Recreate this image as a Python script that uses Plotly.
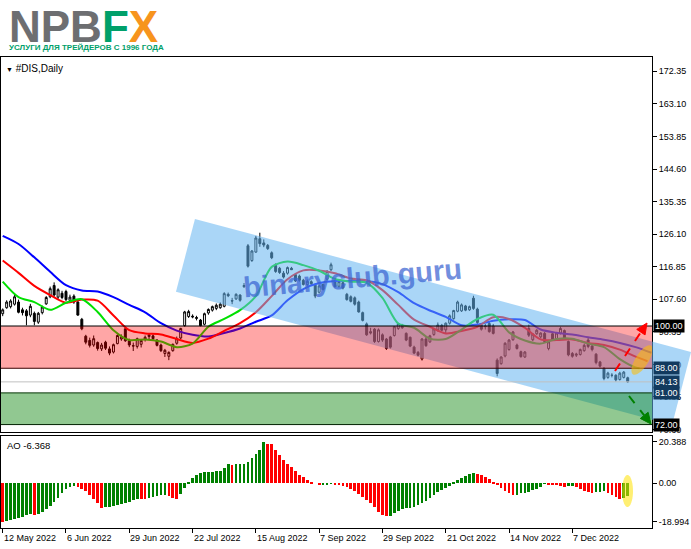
import numpy as np
import pandas as pd
import plotly.graph_objects as go

# ---------------- data ----------------
holidays = ['2022-05-30', '2022-06-20', '2022-07-04', '2022-09-05', '2022-11-24', '2022-12-26']
dates = pd.bdate_range('2022-05-12', '2022-12-28', freq='C', holidays=holidays)

open_ = [103.5, 105.2, 105.5, 106.2, 106.8, 104.6, 104.3, 103.1, 103.6, 101.1,
         103.8, 106.3, 108.3, 111.5, 108.2, 109.3, 109.8, 107.3, 108.5, 106.8,
         101.9, 97.1, 95.9, 94.6, 95.3, 93.5, 95.4, 93.5, 92.6, 95.0,
         96.3, 99.2, 95.8, 94.3, 94.2, 94.8, 96.2, 97.0, 97.2, 96.0,
         94.6, 92.2, 91.4, 93.0, 95.1, 96.6, 100.1, 102.7, 102.8, 102.4,
         101.7, 100.5, 103.7, 104.5, 105.0, 105.2, 105.6, 109.0, 107.2, 107.7,
         108.8, 111.2, 122.8, 118.6, 121.0, 124.8, 123.6, 122.9, 120.8, 117.2,
         116.4, 115.0, 115.0, 116.4, 114.6, 114.2, 113.0, 111.8, 112.6, 111.6,
         109.6, 111.8, 113.3, 116.0, 112.6, 111.3, 112.3, 109.0, 108.3, 108.0,
         106.8, 103.8, 100.6, 98.4, 99.1, 95.6, 97.5, 96.3, 96.9, 97.3,
         99.3, 100.3, 97.9, 96.8, 94.0, 92.5, 90.6, 96.3, 95.5, 97.6,
         98.9, 100.2, 98.9, 100.8, 102.1, 104.2, 104.3, 105.7, 104.6, 107.9,
         104.8, 100.2, 99.8, 100.7, 100.0, 90.3, 89.3, 91.5, 93.3, 96.1,
         94.6, 92.7, 91.2, 99.3, 96.1, 97.8, 96.9, 97.9, 93.6, 97.8,
         96.2, 98.0, 98.7, 95.6, 92.2, 91.7, 91.9, 93.0, 96.0, 94.3,
         92.0, 89.8, 88.0, 85.4, 86.0, 86.0, 84.8, 85.4, 85.3]
high_ = [105.0, 107.3, 107.6, 108.9, 107.5, 105.2, 104.8, 106.3, 104.1, 104.0,
         105.8, 108.5, 111.2, 112.4, 110.7, 110.0, 110.3, 108.9, 109.0, 107.3,
         102.3, 97.5, 96.7, 97.3, 95.6, 95.2, 95.8, 94.2, 95.0, 97.6,
         97.6, 99.8, 96.4, 95.3, 96.7, 96.3, 97.3, 97.9, 97.6, 96.3,
         95.0, 93.5, 92.8, 95.0, 97.0, 99.5, 104.3, 104.6, 103.3, 102.9,
         102.0, 103.8, 105.0, 105.8, 106.4, 106.7, 109.6, 109.5, 108.0, 109.3,
         109.0, 112.2, 123.3, 121.6, 125.6, 126.5, 124.6, 123.3, 121.2, 117.8,
         116.8, 115.6, 116.9, 116.8, 114.9, 114.6, 113.4, 113.2, 113.0, 112.1,
         111.8, 112.1, 115.9, 118.0, 113.0, 113.0, 112.6, 109.4, 108.7, 108.4,
         107.2, 104.1, 101.0, 99.5, 99.4, 99.3, 97.9, 96.6, 97.2, 100.0,
         100.9, 100.6, 98.2, 97.0, 94.4, 92.9, 96.6, 96.9, 97.5, 99.5,
         101.0, 100.6, 101.0, 103.3, 104.6, 107.2, 106.4, 106.0, 105.8, 108.6,
         105.2, 100.6, 100.6, 101.3, 100.6, 90.8, 91.4, 95.4, 96.3, 98.6,
         95.0, 93.0, 92.9, 100.4, 98.0, 99.1, 98.2, 98.3, 95.9, 98.2,
         98.3, 99.8, 99.0, 95.9, 92.6, 92.4, 93.6, 95.0, 96.7, 94.8,
         92.3, 90.1, 88.3, 87.0, 86.6, 86.3, 87.0, 87.2, 85.6]
low_ = [102.8, 104.9, 105.0, 105.8, 103.6, 103.0, 100.2, 102.5, 100.2, 100.6,
        103.3, 106.0, 107.9, 108.3, 107.7, 107.6, 107.1, 106.8, 106.3, 102.9,
        98.8, 94.8, 93.9, 94.1, 93.0, 92.9, 93.2, 91.7, 92.2, 94.8,
        95.8, 95.5, 94.0, 92.9, 93.6, 93.9, 95.6, 96.3, 95.9, 94.2,
        92.6, 91.2, 90.3, 92.7, 94.7, 96.3, 99.8, 102.3, 102.2, 101.6,
        99.9, 100.2, 103.2, 104.1, 104.5, 104.9, 105.3, 108.2, 106.2, 107.4,
        106.9, 110.8, 116.6, 118.2, 120.8, 122.5, 122.4, 121.6, 119.0, 115.1,
        114.8, 113.5, 114.6, 115.9, 112.5, 112.6, 111.5, 111.3, 111.6, 107.9,
        109.2, 110.1, 113.0, 115.6, 110.9, 110.9, 110.4, 107.2, 106.7, 105.8,
        103.8, 101.3, 97.2, 97.6, 95.2, 95.3, 95.5, 93.2, 93.6, 97.0,
        98.9, 99.2, 95.7, 94.0, 92.0, 91.4, 90.2, 94.1, 95.2, 97.2,
        98.4, 98.5, 98.0, 100.4, 101.8, 103.9, 104.0, 104.2, 104.3, 104.6,
        100.6, 98.7, 99.0, 98.1, 97.6, 85.7, 89.0, 91.1, 93.0, 95.8,
        93.3, 91.0, 90.9, 96.9, 95.7, 97.5, 96.5, 95.3, 93.1, 95.8,
        95.9, 97.6, 96.1, 91.4, 91.0, 91.2, 91.6, 92.7, 93.7, 92.8,
        89.1, 88.2, 84.6, 85.0, 85.4, 84.2, 84.5, 85.1, 83.9]
close_ = [104.6, 106.8, 107.1, 108.3, 103.9, 103.8, 102.9, 105.6, 101.3, 103.6,
          105.4, 108.1, 110.6, 108.8, 110.3, 108.1, 107.5, 108.2, 106.8, 103.1,
          99.2, 95.4, 94.5, 96.4, 93.6, 94.6, 93.7, 92.3, 94.7, 97.3,
          96.9, 95.8, 94.6, 94.4, 96.4, 95.9, 96.8, 97.5, 96.4, 94.5,
          93.0, 93.1, 92.5, 94.8, 96.4, 99.3, 104.0, 104.1, 102.6, 102.2,
          100.1, 103.5, 104.7, 105.5, 105.9, 106.2, 109.2, 108.6, 107.1, 109.0,
          107.3, 111.5, 117.0, 121.3, 125.0, 123.4, 123.0, 122.0, 119.4, 115.5,
          115.2, 113.9, 116.6, 116.0, 112.8, 113.0, 111.8, 112.7, 112.0, 108.5,
          111.4, 110.4, 115.5, 117.4, 111.2, 112.6, 110.8, 107.5, 107.0, 106.2,
          104.0, 101.6, 97.5, 98.0, 95.6, 98.9, 96.0, 93.6, 94.0, 99.8,
          100.7, 99.5, 96.0, 94.3, 92.3, 91.7, 96.3, 94.4, 97.2, 99.2,
          100.3, 98.8, 100.8, 102.9, 104.4, 106.8, 106.0, 104.5, 105.5, 105.0,
          101.0, 99.1, 100.0, 98.4, 97.9, 86.5, 91.2, 95.1, 96.0, 98.3,
          93.6, 91.3, 92.6, 97.4, 97.7, 98.8, 98.0, 95.6, 95.5, 96.1,
          98.0, 99.3, 96.4, 91.8, 91.4, 92.0, 93.3, 94.5, 94.2, 93.3,
          89.6, 88.6, 85.1, 86.6, 86.0, 84.7, 86.6, 86.9, 84.13]

# Alligator lines (sampled every 4 bars, already shifted forward)
jaw_idx = list(range(0, 165, 4))
jaw = [125.6, 123.3, 119.5, 115.4, 111.6, 110.1, 109.8, 108.2, 106.0, 103.9,
       100.8, 98.7, 97.5, 97.0, 98.0, 99.3, 101.2, 103.0, 107.3, 110.5,
       112.2, 112.8, 112.8, 112.8, 111.9, 109.6, 106.5, 104.4, 102.6, 100.2,
       100.4, 101.5, 101.9, 101.7, 99.0, 98.1, 97.6, 96.8, 96.1, 95.2,
       94.0, 92.4]
teeth_idx = list(range(0, 161, 4)) + [163]
teeth = [118.6, 115.1, 111.4, 108.8, 106.6, 107.5, 107.2, 103.0, 98.8, 97.9,
         97.6, 96.3, 95.2, 96.4, 98.6, 100.8, 103.9, 108.5, 113.3, 115.8,
         115.8, 115.0, 113.5, 113.0, 110.2, 106.0, 101.8, 99.8, 97.9, 98.6,
         99.8, 102.5, 102.0, 99.5, 96.2, 96.0, 96.2, 95.2, 94.6, 93.3,
         91.3, 90.0]
lips_idx = list(range(0, 161, 4)) + [161]
lips = [112.6, 108.2, 106.8, 104.6, 106.6, 107.6, 104.0, 98.8, 96.0, 96.2,
        95.6, 94.0, 95.0, 99.8, 102.0, 104.5, 108.5, 116.8, 118.3, 117.3,
        115.7, 113.4, 112.6, 112.3, 108.0, 100.7, 99.5, 96.4, 96.3, 99.0,
        102.0, 103.2, 98.2, 95.9, 95.0, 96.3, 96.4, 95.0, 94.0, 90.6,
        88.2, 88.0]

ao = [-18.99, -18.7, -18.2, -17.6, -17.0, -16.4, -15.8, -15.3, -15.4, -15.0,
      -14.0, -12.6, -11.0, -9.3, -7.2, -4.9, -2.6, -1.6, -1.3, -1.7,
      -2.6, -4.0, -5.8, -7.9, -9.9, -12.1, -11.9, -11.6, -11.2, -10.8,
      -10.2, -9.6, -9.0, -8.2, -7.5, -7.7, -7.9, -7.4, -6.9, -6.4,
      -6.0, -5.8, -6.3, -7.0, -7.6, -5.5, -2.4, 0.8, 2.5, 4.0,
      4.9, 5.4, 5.6, 5.7, 5.9, 6.2, 7.4, 9.4, 9.2, 9.4,
      9.5, 9.7, 10.4, 12.4, 14.3, 16.5, 20.388, 19.6, 19.2, 16.6,
      14.1, 11.6, 9.7, 7.9, 6.2, 4.3, 3.0, 1.6, 0.8, 0.0,
      -0.8, -0.5, -0.35, -0.3, -0.45, -0.8, -1.3, -2.0, -2.9, -3.9,
      -5.1, -6.6, -8.2, -9.9, -11.8, -14.0, -15.6, -16.1, -16.0, -14.6,
      -13.5, -12.9, -12.4, -12.0, -11.6, -10.9, -9.9, -8.6, -7.2, -5.9,
      -4.5, -3.3, -2.2, -1.2, 0.6, 1.6, 2.8, 3.8, 4.6, 5.1,
      4.8, 4.0, 2.9, 1.9, 0.8, -0.8, -2.2, -3.6, -5.0, -5.9,
      -5.6, -5.0, -4.6, -4.1, -3.5, -2.8, -1.8, -0.3, -0.4, -0.7,
      -1.0, -1.3, -1.6, -1.4, -1.2, -2.0, -2.8, -3.6, -4.3, -4.8,
      -4.5, -4.2, -4.0, -4.6, -5.8, -6.9, -7.9, -7.3, -6.368]

price_ticks = [172.35, 163.10, 153.85, 144.60, 135.35, 126.10, 116.85, 107.60, 98.35, 89.10, 79.85, 70.60]
ao_ticks = [20.388, 0.0, -18.994]
ao_tick_text = ['20.388', '0.00', '-18.994']
date_ticks = ['2022-05-12', '2022-06-06', '2022-06-29', '2022-07-22', '2022-08-15',
              '2022-09-07', '2022-09-29', '2022-10-21', '2022-11-14', '2022-12-07']
date_labels = ['12 May 2022', '6 Jun 2022', '29 Jun 2022', '22 Jul 2022', '15 Aug 2022',
               '7 Sep 2022', '29 Sep 2022', '21 Oct 2022', '14 Nov 2022', '7 Dec 2022']

zone_red = (88.0, 100.0)
zone_green = (72.0, 81.0)
bid_level = 84.13
level_labels = [(100.00, '100.00', '#000000'), (88.00, '88.00', '#123a5e'),
                (84.13, '84.13', '#123a5e'), (81.00, '81.00', '#123a5e'),
                (72.00, '72.00', '#000000')]
# analyst channel corners (bar index, price)
channel_i = [48.6, 174.0, 169.2, 43.8]
channel_p = [130.4, 92.6, 71.9, 109.7]

# ---------------- geometry ----------------
W, H = 691, 549
PX0, PX1 = 1, 652
PY_TOP, PY_MAIN_BOT, PY_AO_TOP, PY_AO_BOT = 57, 432, 436, 528
XR = [-0.43, 164.14]
YR = [69.89, 176.42]
AOR = [-22.02, 23.30]
PH = PY_AO_BOT - PY_TOP
D0 = (PY_AO_BOT - PY_MAIN_BOT) / PH
D1_AO = (PY_AO_BOT - PY_AO_TOP) / PH

n = len(dates)
idx = list(range(n))
pos = {d.strftime('%Y-%m-%d'): k for k, d in enumerate(dates)}
tick_pos = [pos[d] for d in date_ticks]


def to_paper(i, p):
    return ((i - XR[0]) / (XR[1] - XR[0]), D0 + (p - YR[0]) / (YR[1] - YR[0]) * (1 - D0))


def px_paper(xp, yp):
    return ((xp - PX0) / (PX1 - PX0), (PY_AO_BOT - yp) / PH)


def px_data(xp, yp):
    i = XR[0] + (xp - PX0) / (PX1 - PX0) * (XR[1] - XR[0])
    p = YR[1] - (yp - PY_TOP) / (PY_MAIN_BOT - PY_TOP) * (YR[1] - YR[0])
    return i, p


fig = go.Figure()
fig.add_trace(go.Candlestick(
    x=idx, open=open_, high=high_, low=low_, close=close_,
    increasing=dict(line=dict(color='black', width=1), fillcolor='white'),
    decreasing=dict(line=dict(color='black', width=1), fillcolor='black'),
    whiskerwidth=0, xaxis='x', yaxis='y', showlegend=False, hoverinfo='skip'))

for xs, ys, col in [(jaw_idx, jaw, '#0000ff'), (teeth_idx, teeth, '#ff0000'), (lips_idx, lips, '#00e000')]:
    fig.add_trace(go.Scatter(x=xs, y=ys, mode='lines', line=dict(color=col, width=2, shape='spline', smoothing=0.8),
                             xaxis='x', yaxis='y', showlegend=False, hoverinfo='skip'))

ao_colors = ['#ff0000' if (k == 0 or ao[k] < ao[k - 1]) else '#008000' for k in range(n)]
fig.add_trace(go.Bar(x=idx, y=ao, marker=dict(color=ao_colors, line=dict(width=0)), width=0.68,
                     xaxis='x2', yaxis='y2', showlegend=False, hoverinfo='skip'))

shapes = []
pts = [to_paper(a, b) for a, b in zip(channel_i, channel_p)]
path = 'M ' + ' L '.join(f'{x:.5f},{y:.5f}' for x, y in pts) + ' Z'
shapes.append(dict(type='path', xref='paper', yref='paper', path=path,
                   fillcolor='rgba(100,180,240,0.55)', line=dict(width=0), layer='above'))
shapes.append(dict(type='rect', xref='x domain', yref='y', x0=0, x1=1, y0=zone_red[0], y1=zone_red[1],
                   fillcolor='rgba(255,0,0,0.35)', line=dict(width=0), layer='above'))
shapes.append(dict(type='rect', xref='x domain', yref='y', x0=0, x1=1, y0=zone_green[0], y1=zone_green[1],
                   fillcolor='rgba(0,128,0,0.43)', line=dict(width=0), layer='above'))
for lvl, col in [(zone_red[1], '#000000'), (zone_red[0], '#3a0000'), (zone_green[1], '#003300'), (zone_green[0], '#002000')]:
    shapes.append(dict(type='line', xref='x domain', yref='y', x0=0, x1=1, y0=lvl, y1=lvl,
                       line=dict(color=col, width=1), layer='above'))
shapes.append(dict(type='line', xref='x domain', yref='y', x0=0, x1=1, y0=bid_level, y1=bid_level,
                   line=dict(color='#c0c0c0', width=1), layer='above'))


def arrow(p_start, p_tip, color, head=11, half=5):
    dx, dy = p_tip[0] - p_start[0], p_tip[1] - p_start[1]
    L = (dx * dx + dy * dy) ** 0.5
    ux, uy = dx / L, dy / L
    bx, by = p_tip[0] - head * ux, p_tip[1] - head * uy
    (x0, y0), (x1, y1) = px_data(*p_start), px_data(bx, by)
    shapes.append(dict(type='line', xref='x', yref='y', x0=x0, y0=y0, x1=x1, y1=y1,
                       line=dict(color=color, width=2, dash='dash'), layer='above'))
    a = px_data(bx - half * uy, by + half * ux)
    b = px_data(bx + half * uy, by - half * ux)
    t = px_data(*p_tip)
    shapes.append(dict(type='path', xref='x', yref='y',
                       path=f'M {t[0]},{t[1]} L {a[0]},{a[1]} L {b[0]},{b[1]} Z',
                       fillcolor=color, line=dict(color=color, width=1), layer='above'))


def ellipse(cx, cy, rx, ry, ang, fill, xr='x', yr='y', conv=px_data):
    th = np.linspace(0, 2 * np.pi, 40)
    ca, sa = np.cos(np.radians(ang)), np.sin(np.radians(ang))
    ptsx = cx + rx * np.cos(th) * ca - ry * np.sin(th) * sa
    ptsy = cy + rx * np.cos(th) * sa + ry * np.sin(th) * ca
    q = [conv(a, b) for a, b in zip(ptsx, ptsy)]
    pth = 'M ' + ' L '.join(f'{a:.4f},{b:.4f}' for a, b in q) + ' Z'
    shapes.append(dict(type='path', xref=xr, yref=yr, path=pth, fillcolor=fill,
                       line=dict(width=0), layer='above'))


ellipse(642, 360, 17, 6.5, -58, 'rgba(255,190,0,0.55)')
arrow((615, 371), (647, 323), '#ff0000')
arrow((629, 396), (651, 424), '#008000')


def px_ao(xp, yp):
    i = XR[0] + (xp - PX0) / (PX1 - PX0) * (XR[1] - XR[0])
    v = AOR[1] - (yp - PY_AO_TOP) / (PY_AO_BOT - PY_AO_TOP) * (AOR[1] - AOR[0])
    return i, v


ellipse(627.5, 491, 5.5, 16, 0, 'rgba(255,225,0,0.55)', 'x2', 'y2', px_ao)

annotations = []
for lvl, txt, bg in level_labels:
    annotations.append(dict(xref='paper', yref='y', x=1, y=lvl, xanchor='left', yanchor='middle', xshift=1,
                            text=txt, showarrow=False, bgcolor=bg, borderpad=1,
                            font=dict(family='Liberation Sans, Arial', size=9, color='white')))
for tp, lab in zip(tick_pos, date_labels):
    annotations.append(dict(xref='x2', yref='paper', x=tp, y=0, xanchor='left', yanchor='top', yshift=-3, xshift=-1,
                            text=lab, showarrow=False,
                            font=dict(family='Liberation Sans, Arial', size=9, color='black')))
ax, ay = px_paper(4, 61)
annotations.append(dict(xref='paper', yref='paper', x=ax, y=ay, xanchor='left', yanchor='top',
                        text='<span style="font-size:7px">▼</span> #DIS,Daily', showarrow=False,
                        font=dict(family='Liberation Sans, Arial', size=10, color='black')))
ax, ay = px_paper(5, 438)
annotations.append(dict(xref='paper', yref='paper', x=ax, y=ay, xanchor='left', yanchor='top',
                        text='AO -6.368', showarrow=False,
                        font=dict(family='Liberation Sans, Arial', size=9.5, color='black')))
ax, ay = px_paper(7, 0)
annotations.append(dict(xref='paper', yref='paper', x=ax, y=ay, xanchor='left', yanchor='top',
                        text='<b>NPB<span style="color:#00a06a">F</span><span style="color:#f7941d">X</span></b>',
                        showarrow=False, font=dict(family='Liberation Sans, Arial', size=44, color='#6d6e71')))
ax, ay = px_paper(7, 41)
annotations.append(dict(xref='paper', yref='paper', x=ax, y=ay, xanchor='left', yanchor='top',
                        text='<b>УСЛУГИ ДЛЯ ТРЕЙДЕРОВ С 1996 ГОДА</b>', showarrow=False,
                        font=dict(family='Liberation Sans, Arial', size=8, color='#00a06a')))
ax, ay = px_paper(352, 278)
annotations.append(dict(xref='paper', yref='paper', x=ax, y=ay, xanchor='center', yanchor='middle',
                        text='<b>binaryclub.guru</b>', textangle=-5, showarrow=False,
                        font=dict(family='Liberation Sans, Arial', size=29, color='rgba(60,100,210,0.72)')))

axis_common = dict(showgrid=False, zeroline=False, showline=True, mirror=True, linecolor='black', linewidth=1)
fig.update_layout(
    width=W, height=H, margin=dict(l=PX0, r=W - PX1, t=PY_TOP, b=H - PY_AO_BOT),
    paper_bgcolor='white', plot_bgcolor='white', showlegend=False, bargap=0,
    xaxis=dict(domain=[0, 1], range=XR, anchor='y', showticklabels=False, ticks='',
               rangeslider=dict(visible=False), **axis_common),
    yaxis=dict(domain=[D0, 1], range=YR, side='right', anchor='x', tickvals=price_ticks,
               ticktext=[f'{v:.2f}' for v in price_ticks], ticks='outside', ticklen=4, tickcolor='black',
               tickfont=dict(family='Liberation Sans, Arial', size=9, color='black'), **axis_common),
    xaxis2=dict(domain=[0, 1], range=XR, anchor='y2', tickvals=tick_pos, ticks='outside', ticklen=4,
                tickcolor='black', showticklabels=False, **axis_common),
    yaxis2=dict(domain=[0, D1_AO], range=AOR, side='right', anchor='x2', tickvals=ao_ticks, ticktext=ao_tick_text,
                ticks='outside', ticklen=4, tickcolor='black',
                tickfont=dict(family='Liberation Sans, Arial', size=9, color='black'), **axis_common),
    shapes=shapes, annotations=annotations,
)
fig.write_html('out.html', config={'displayModeBar': False},
               post_script="document.body.style.margin='0px';document.body.style.overflow='hidden';")
